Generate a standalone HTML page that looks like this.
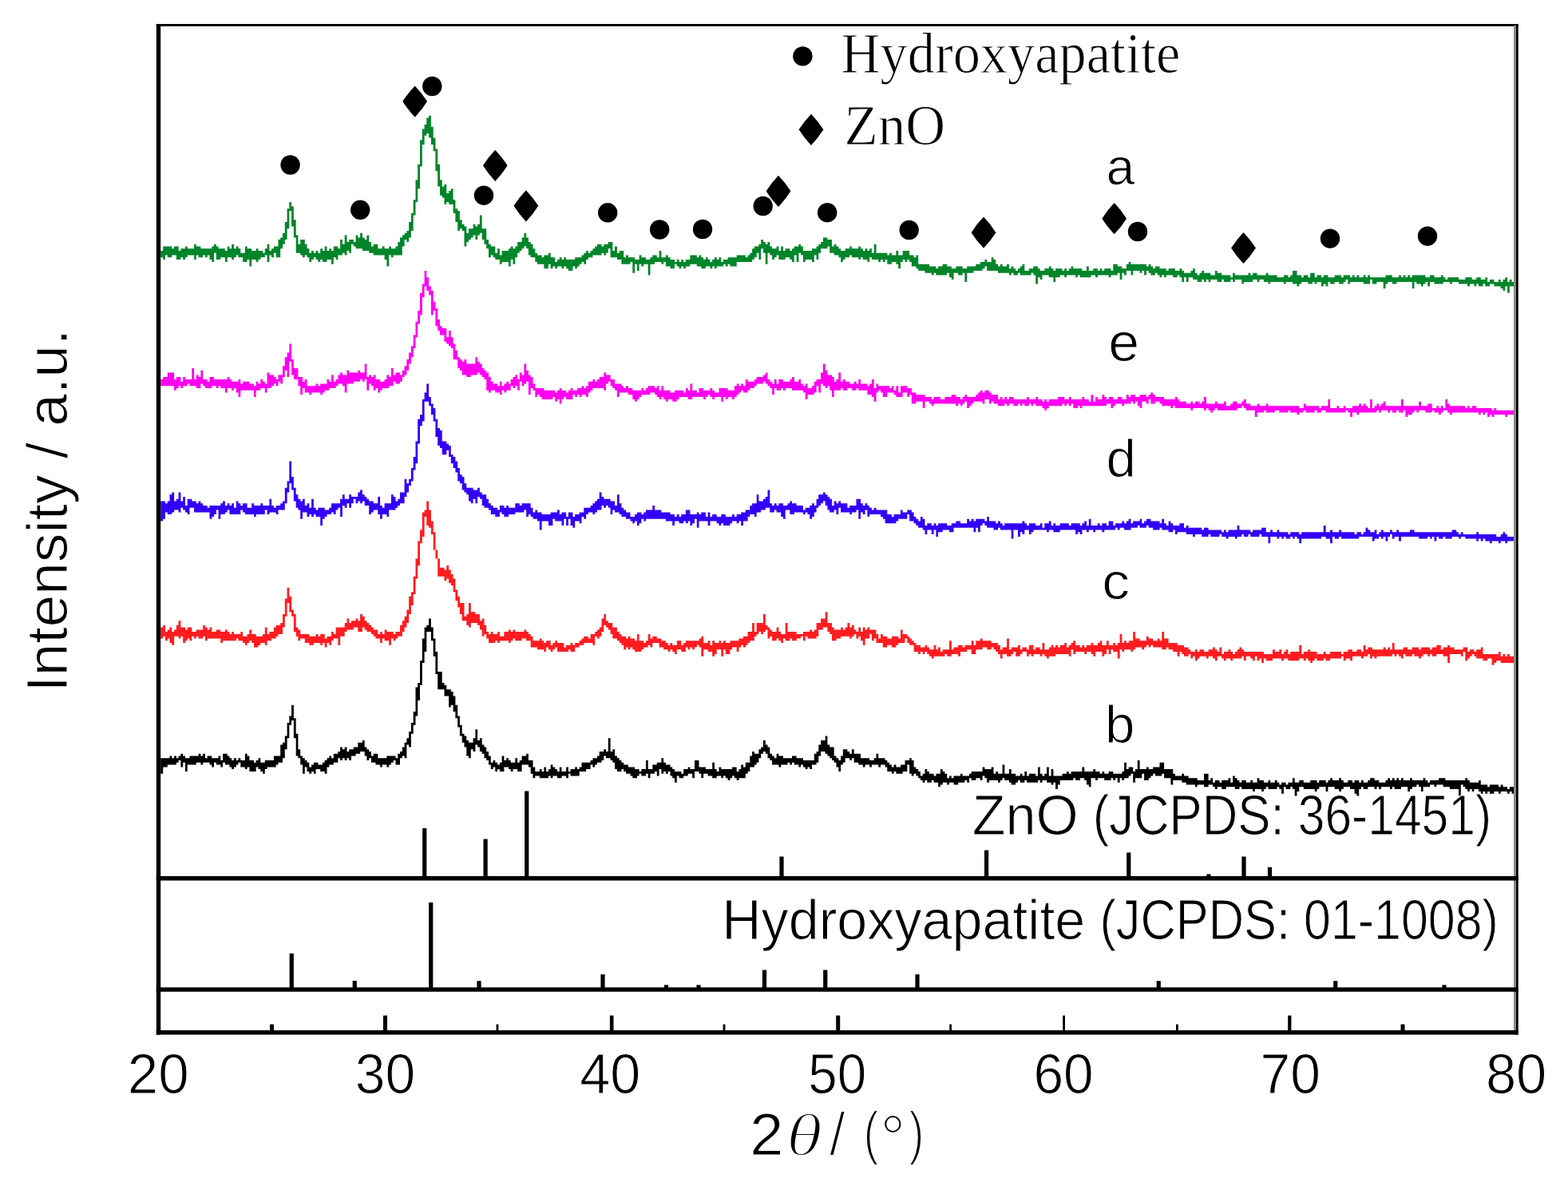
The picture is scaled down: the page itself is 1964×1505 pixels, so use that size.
<!DOCTYPE html>
<html lang="en"><head><meta charset="utf-8"><title>XRD patterns</title>
<style>html,body{margin:0;padding:0;background:#fff}svg{display:block}text{font-family:"Liberation Sans",sans-serif;fill:#000;stroke:#fff;stroke-width:1px;paint-order:fill stroke}.thin{stroke-width:2.2px}.sf{font-family:"Liberation Serif",serif}</style></head>
<body>
<svg width="1964" height="1505" viewBox="0 0 1964 1505">
<rect width="1964" height="1505" fill="#fff"/>
<g id="curves">
<path fill="#00852a" d="M201.2 314H204.2V308.5H215.3V311.2H218.1V308.5H223.6V314H226.4V311.2H232V308.5H234.7V311.2H243.1V305.7H245.8V308.5H251.4V311.2H265.3V308.5H268V305.7H270.8V308.5H273.6V311.2H281.9V314H284.7V308.5H287.4V311.2H290.2V305.7H293V311.2H295.8V308.5H298.5V311.2H301.3V316.8H306.9V308.5H309.6V311.2H315.2V314H320.7V311.2H323.5V314H329.1V316.8H331.8V311.2H334.6V305.7H337.4V314H340.1V311.2H342.9V308.5H348.5V300.1H351.2V297.4H354V291.8H356.8V278H359.6V261.3H362.3V253H365.1V258.5H367.9V275.2H370.7V294.6H373.4V305.7H376.2V300.1H381.8V305.7H384.5V311.2H387.3V316.8H390.1V314H392.9V316.8H395.6V314H398.4V316.8H401.2V311.2H404V314H406.7V308.5H409.5V314H412.3V311.2H415V314H417.8V308.5H423.4V311.2H426.1V300.1H428.9V305.7H431.7V294.6H434.5V302.9H437.2V300.1H442.8V302.9H445.6V294.6H448.3V297.4H451.1V291.8H453.9V297.4H456.7V300.1H459.4V294.6H462.2V302.9H465V308.5H467.8V305.7H473.3V311.2H478.8V308.5H481.6V311.2H487.2V308.5H489.9V311.2H495.5V308.5H498.3V302.9H501V297.4H503.8V294.6H506.6V291.8H509.4V289.1H512.1V278H514.9V266.9H517.7V250.2H520.5V225.2H523.2V205.8H526V175.3H528.8V161.4H531.6V155.9H534.3V147.6H537.1V144.8H539.9V158.7H542.7V172.5H545.4V186.4H548.2V205.8H551V225.2H553.7V233.6H556.5V230.8H559.3V241.9H562.1V239.1H564.8V236.3H567.6V250.2H570.4V261.3H573.2V264.1H575.9V275.2H578.7V280.7H581.5V283.5H584.3V291.8H587V286.3H592.6V280.7H595.4V283.5H598.1V280.7H600.9V269.6H603.7V286.3H609.2V300.1H612V305.7H614.8V308.5H620.3V316.8H623.1V311.2H625.9V319.6H628.6V314H637V311.2H639.7V308.5H642.5V311.2H645.3V308.5H648.1V302.9H653.6V297.4H656.4V291.8H659.2V297.4H661.9V302.9H664.7V305.7H667.5V311.2H670.3V316.8H673V319.6H678.6V322.3H681.4V319.6H686.9V316.8H689.7V322.3H695.2V327.9H698V325.1H700.8V322.3H703.5V325.1H706.3V322.3H709.1V325.1H720.2V322.3H728.5V319.6H731.3V316.8H734.1V314H736.8V316.8H739.6V314H742.4V311.2H745.2V308.5H747.9V305.7H753.5V308.5H756.3V305.7H761.8V302.9H767.3V314H770.1V308.5H772.9V316.8H775.7V314H781.2V322.3H784V319.6H786.8V322.3H795.1V325.1H800.6V319.6H803.4V322.3H809V325.1H814.5V322.3H817.3V319.6H822.8V322.3H825.6V314H828.4V322.3H833.9V319.6H836.7V322.3H839.5V325.1H845V327.9H847.8V325.1H850.6V327.9H853.3V325.1H856.1V327.9H858.9V325.1H864.4V319.6H872.8V322.3H875.5V319.6H878.3V322.3H881.1V325.1H883.9V322.3H886.6V325.1H889.4V327.9H892.2V325.1H895V322.3H897.7V325.1H900.5V322.3H903.3V327.9H906V325.1H911.6V322.3H922.7V319.6H933.8V322.3H936.6V319.6H939.3V316.8H942.1V311.2H944.9V308.5H950.4V305.7H953.2V300.1H956V302.9H958.8V305.7H961.5V302.9H964.3V308.5H967.1V311.2H972.6V308.5H975.4V314H978.2V308.5H980.9V314H983.7V311.2H989.3V314H992V311.2H994.8V308.5H1000.4V305.7H1003.1V308.5H1005.9V314H1017V311.2H1022.6V308.5H1025.3V305.7H1028.1V302.9H1030.9V297.4H1036.4V300.1H1042V308.5H1044.7V305.7H1047.5V308.5H1050.3V311.2H1053.1V314H1058.6V311.2H1064.2V308.5H1066.9V311.2H1075.3V308.5H1078V311.2H1080.8V314H1083.6V311.2H1086.4V314H1089.1V311.2H1091.9V316.8H1094.7V305.7H1097.5V316.8H1111.3V319.6H1114.1V316.8H1116.9V319.6H1122.4V314H1125.2V319.6H1130.7V314H1139.1V319.6H1144.6V322.3H1147.4V319.6H1150.2V330.7H1164V333.4H1172.4V336.2H1175.1V333.4H1180.7V330.7H1186.2V333.4H1191.8V336.2H1197.3V333.4H1205.6V336.2H1211.2V333.4H1222.3V330.7H1227.8V327.9H1233.4V325.1H1236.2V327.9H1241.7V322.3H1244.5V325.1H1247.3V330.7H1250V333.4H1252.8V330.7H1255.6V333.4H1261.1V330.7H1263.9V336.2H1266.7V333.4H1269.4V336.2H1272.2V339H1275V336.2H1277.8V333.4H1280.5V330.7H1283.3V339H1288.9V336.2H1294.4V333.4H1300V336.2H1302.7V339H1308.3V336.2H1313.8V333.4H1316.6V336.2H1319.4V339H1322.1V336.2H1330.5V339H1333.2V336.2H1336V339H1338.8V336.2H1341.6V333.4H1344.3V336.2H1355.4V339H1361V333.4H1363.8V339H1369.3V336.2H1374.9V339H1377.6V336.2H1380.4V339H1383.2V336.2H1391.5V339H1394.3V330.7H1399.8V333.4H1405.4V336.2H1410.9V330.7H1413.7V327.9H1416.5V330.7H1435.9V333.4H1438.7V330.7H1441.4V333.4H1444.2V336.2H1447V333.4H1452.5V336.2H1460.8V339H1463.6V336.2H1471.9V339H1477.5V336.2H1480.3V339H1483V341.8H1491.4V339H1494.1V336.2H1496.9V341.8H1499.7V344.5H1502.5V341.8H1505.2V339H1508V341.8H1516.3V344.5H1521.9V339H1524.7V341.8H1530.2V344.5H1541.3V347.3H1544.1V341.8H1546.8V344.5H1563.5V341.8H1566.3V344.5H1569V341.8H1574.6V344.5H1585.7V341.8H1588.5V344.5H1599.6V347.3H1607.9V344.5H1613.4V347.3H1616.2V344.5H1619V339H1624.5V344.5H1630.1V347.3H1632.8V344.5H1638.4V347.3H1641.2V341.8H1646.7V347.3H1649.5V344.5H1655V347.3H1657.8V344.5H1663.4V347.3H1671.7V344.5H1680V347.3H1682.8V344.5H1691.1V347.3H1693.9V344.5H1696.6V347.3H1699.4V344.5H1702.2V347.3H1707.7V344.5H1710.5V347.3H1713.3V344.5H1716.1V347.3H1735.5V344.5H1743.8V347.3H1752.1V344.5H1754.9V347.3H1757.7V344.5H1760.4V347.3H1763.2V344.5H1766V347.3H1768.8V344.5H1785.4V347.3H1791V344.5H1796.5V347.3H1804.8V344.5H1807.6V347.3H1810.4V350.1H1813.1V347.3H1827V350.1H1835.3V347.3H1843.7V350.1H1849.2V347.3H1854.8V350.1H1860.3V347.3H1863.1V352.9H1865.9V350.1H1871.4V352.9H1877V350.1H1879.7V352.9H1882.5V350.1H1885.3V347.3H1888V352.9H1890.8V350.1H1893.6V352.9H1896.4V358.4H1890.8V366.7H1888V358.4H1885.3V364H1882.5V361.2H1879.7V358.4H1871.4V355.6H1865.9V358.4H1860.3V355.6H1857.5V358.4H1852V355.6H1849.2V358.4H1846.4V355.6H1840.9V358.4H1838.1V355.6H1827V352.9H1818.7V355.6H1815.9V352.9H1807.6V355.6H1796.5V352.9H1791V358.4H1788.2V352.9H1785.4V355.6H1782.6V358.4H1779.9V355.6H1774.3V352.9H1771.5V361.2H1768.8V352.9H1749.3V355.6H1743.8V352.9H1738.3V355.6H1735.5V361.2H1732.7V352.9H1724.4V355.6H1718.8V350.1H1716.1V355.6H1707.7V352.9H1691.1V355.6H1688.3V350.1H1685.5V352.9H1682.8V355.6H1677.2V352.9H1671.7V355.6H1666.1V352.9H1663.4V358.4H1660.6V355.6H1657.8V358.4H1655V352.9H1649.5V355.6H1646.7V352.9H1643.9V355.6H1638.4V352.9H1630.1V355.6H1627.3V358.4H1624.5V355.6H1619V352.9H1610.6V355.6H1607.9V352.9H1591.2V355.6H1588.5V352.9H1582.9V350.1H1577.4V352.9H1574.6V350.1H1569V352.9H1557.9V355.6H1555.2V350.1H1546.8V352.9H1544.1V350.1H1541.3V352.9H1533V350.1H1530.2V352.9H1524.7V350.1H1516.3V352.9H1513.6V350.1H1510.8V352.9H1508V350.1H1505.2V352.9H1499.7V350.1H1494.1V347.3H1488.6V352.9H1485.8V347.3H1483V352.9H1480.3V347.3H1477.5V344.5H1474.7V347.3H1469.2V344.5H1460.8V347.3H1458.1V344.5H1455.3V347.3H1452.5V344.5H1449.8V341.8H1447V344.5H1441.4V341.8H1438.7V339H1435.9V344.5H1433.1V339H1430.3V341.8H1427.6V339H1419.2V344.5H1416.5V339H1410.9V344.5H1408.1V341.8H1405.4V350.1H1402.6V341.8H1399.8V344.5H1391.5V347.3H1388.7V344.5H1374.9V347.3H1372.1V344.5H1366.5V347.3H1352.7V344.5H1349.9V347.3H1347.1V344.5H1336V347.3H1333.2V344.5H1327.7V347.3H1322.1V352.9H1319.4V347.3H1313.8V344.5H1305.5V350.1H1302.7V347.3H1300V355.6H1297.2V344.5H1294.4V341.8H1291.6V344.5H1277.8V341.8H1275V344.5H1269.4V341.8H1266.7V344.5H1263.9V341.8H1250V339H1236.2V333.4H1233.4V336.2H1230.6V339H1219.5V341.8H1211.2V352.9H1208.4V341.8H1205.6V344.5H1200.1V341.8H1194.5V350.1H1191.8V347.3H1189V341.8H1186.2V344.5H1172.4V341.8H1169.6V344.5H1166.8V341.8H1158.5V339H1150.2V336.2H1147.4V333.4H1141.8V327.9H1139.1V325.1H1136.3V327.9H1133.5V325.1H1130.7V327.9H1128V336.2H1125.2V330.7H1122.4V327.9H1116.9V330.7H1111.3V325.1H1108.6V327.9H1105.8V325.1H1103V327.9H1100.2V325.1H1091.9V322.3H1089.1V327.9H1086.4V325.1H1080.8V322.3H1078V325.1H1075.3V322.3H1066.9V319.6H1064.2V322.3H1058.6V325.1H1055.8V327.9H1053.1V322.3H1050.3V319.6H1044.7V316.8H1039.2V308.5H1036.4V311.2H1028.1V316.8H1025.3V325.1H1022.6V319.6H1019.8V327.9H1017V325.1H1008.7V327.9H1005.9V319.6H1003.1V316.8H1000.4V327.9H997.6V319.6H994.8V327.9H992V325.1H989.3V322.3H983.7V325.1H975.4V319.6H972.6V322.3H969.8V325.1H967.1V319.6H964.3V316.8H961.5V330.7H958.8V316.8H956V311.2H953.2V325.1H950.4V316.8H947.7V322.3H944.9V325.1H942.1V327.9H922.7V333.4H914.4V330.7H911.6V333.4H908.8V330.7H906V333.4H897.7V336.2H895V333.4H892.2V336.2H889.4V333.4H883.9V336.2H878.3V333.4H872.8V330.7H864.4V333.4H858.9V336.2H856.1V333.4H853.3V336.2H850.6V333.4H847.8V330.7H845V336.2H839.5V333.4H833.9V327.9H831.1V330.7H828.4V327.9H820.1V330.7H814.5V344.5H811.7V330.7H806.2V333.4H803.4V330.7H800.6V339H797.9V330.7H795.1V341.8H792.3V327.9H789.5V330.7H778.4V325.1H772.9V322.3H764.6V311.2H761.8V316.8H759V319.6H756.3V316.8H753.5V319.6H742.4V322.3H736.8V325.1H734.1V330.7H731.3V327.9H728.5V330.7H725.7V333.4H723V336.2H720.2V333.4H717.4V339H711.9V336.2H709.1V333.4H706.3V336.2H703.5V333.4H698V336.2H695.2V333.4H692.4V336.2H689.7V330.7H686.9V336.2H681.4V330.7H673V327.9H670.3V322.3H664.7V319.6H661.9V311.2H659.2V308.5H656.4V311.2H653.6V314H650.8V316.8H648.1V322.3H645.3V330.7H642.5V325.1H639.7V333.4H637V327.9H628.6V330.7H625.9V325.1H620.3V322.3H617.6V319.6H614.8V322.3H612V311.2H609.2V305.7H606.5V300.1H603.7V291.8H600.9V294.6H598.1V300.1H595.4V294.6H592.6V297.4H589.8V300.1H587V302.9H584.3V308.5H581.5V289.1H578.7V286.3H575.9V289.1H573.2V278H570.4V266.9H567.6V255.8H562.1V253H559.3V255.8H556.5V247.4H553.7V244.7H551V233.6H548.2V214.2H545.4V189.2H542.7V180.9H539.9V172.5H537.1V167H534.3V169.8H531.6V180.9H528.8V208.6H526V236.3H523.2V253H520.5V269.6H517.7V289.1H514.9V297.4H512.1V302.9H509.4V300.1H506.6V308.5H503.8V319.6H492.7V322.3H489.9V319.6H487.2V333.4H484.4V325.1H481.6V319.6H467.8V316.8H462.2V314H453.9V311.2H445.6V308.5H442.8V305.7H440V316.8H437.2V314H434.5V319.6H431.7V316.8H428.9V319.6H423.4V325.1H420.6V322.3H417.8V330.7H415V325.1H409.5V327.9H404V325.1H401.2V327.9H398.4V325.1H395.6V322.3H392.9V325.1H390.1V327.9H387.3V322.3H384.5V319.6H381.8V322.3H379V319.6H376.2V316.8H370.7V297.4H367.9V283.5H365.1V264.1H362.3V286.3H359.6V300.1H356.8V305.7H354V311.2H351.2V322.3H345.7V316.8H342.9V322.3H340.1V319.6H337.4V327.9H334.6V319.6H331.8V322.3H326.3V325.1H323.5V327.9H320.7V325.1H315.2V333.4H312.4V325.1H309.6V327.9H304.1V322.3H298.5V319.6H295.8V322.3H293V325.1H290.2V322.3H284.7V327.9H281.9V322.3H276.3V325.1H270.8V316.8H268V327.9H265.3V325.1H262.5V319.6H259.7V322.3H256.9V319.6H254.2V322.3H248.6V319.6H245.8V325.1H243.1V319.6H234.7V322.3H232V325.1H229.2V322.3H226.4V325.1H220.9V319.6H215.3V322.3H209.8V319.6H207V325.1H204.2V322.3H201.2Z"/>
<path fill="#ff00f0" d="M201.2 474.9H204.2V472.1H209.8V466.6H218.1V474.9H220.9V472.1H226.4V477.7H229.2V472.1H232V474.9H240.3V461H243.1V474.9H245.8V469.4H248.6V472.1H251.4V463.8H254.2V474.9H259.7V477.7H262.5V472.1H268V474.9H284.7V472.1H287.4V474.9H290.2V477.7H298.5V474.9H301.3V480.5H304.1V477.7H312.4V480.5H318V483.2H320.7V477.7H323.5V480.5H326.3V474.9H329.1V477.7H331.8V480.5H334.6V466.6H337.4V469.4H342.9V472.1H345.7V474.9H348.5V469.4H354V458.3H356.8V447.2H359.6V441.6H362.3V430.5H365.1V449.9H367.9V461H373.4V472.1H379V477.7H381.8V474.9H384.5V483.2H395.6V480.5H398.4V483.2H401.2V480.5H409.5V474.9H412.3V477.7H415V469.4H417.8V477.7H420.6V474.9H423.4V469.4H426.1V466.6H428.9V469.4H434.5V463.8H437.2V466.6H448.3V463.8H451.1V466.6H456.7V455.5H459.4V472.1H462.2V469.4H465V472.1H467.8V469.4H470.5V474.9H476.1V477.7H481.6V474.9H484.4V469.4H487.2V472.1H489.9V461H492.7V469.4H495.5V466.6H501V469.4H503.8V463.8H506.6V458.3H509.4V449.9H512.1V441.6H514.9V433.3H517.7V419.4H520.5V402.8H523.2V388.9H526V366.7H528.8V355.6H531.6V339H534.3V347.3H537.1V358.4H539.9V364H542.7V377.8H545.4V386.1H548.2V400H551V408.3H553.7V411.1H559.3V422.2H562.1V413.9H564.8V422.2H567.6V430.5H570.4V438.8H573.2V447.2H575.9V449.9H578.7V452.7H581.5V449.9H584.3V455.5H595.4V447.2H598.1V452.7H600.9V455.5H603.7V461H606.5V463.8H609.2V466.6H612V472.1H614.8V477.7H617.6V480.5H623.1V483.2H625.9V477.7H628.6V483.2H631.4V480.5H634.2V477.7H637V480.5H639.7V474.9H642.5V472.1H645.3V469.4H648.1V474.9H650.8V466.6H653.6V469.4H656.4V455.5H659.2V463.8H661.9V469.4H664.7V472.1H667.5V480.5H670.3V486H681.4V488.8H695.2V491.6H698V488.8H700.8V486H703.5V488.8H709.1V491.6H711.9V488.8H714.6V486H717.4V488.8H723V486H728.5V483.2H731.3V486H734.1V483.2H736.8V477.7H742.4V474.9H745.2V477.7H747.9V474.9H750.7V472.1H756.3V466.6H759V469.4H764.6V474.9H770.1V480.5H778.4V483.2H781.2V486H784V483.2H786.8V486H792.3V488.8H803.4V486H806.2V488.8H809V486H811.7V483.2H820.1V486H822.8V483.2H825.6V488.8H828.4V483.2H831.1V488.8H839.5V491.6H845V488.8H856.1V491.6H858.9V486H861.7V488.8H864.4V480.5H867.2V488.8H872.8V491.6H875.5V486H881.1V488.8H889.4V486H892.2V488.8H895V491.6H900.5V486H911.6V488.8H919.9V483.2H922.7V480.5H925.5V483.2H928.2V480.5H931V483.2H933.8V474.9H936.6V477.7H944.9V474.9H947.7V472.1H956V469.4H958.8V466.6H961.5V474.9H964.3V477.7H967.1V480.5H969.8V474.9H972.6V480.5H975.4V474.9H980.9V477.7H989.3V474.9H992V472.1H994.8V477.7H1000.4V474.9H1003.1V480.5H1005.9V483.2H1008.7V480.5H1011.5V486H1017V483.2H1019.8V477.7H1022.6V474.9H1028.1V466.6H1030.9V455.5H1033.7V463.8H1036.4V469.4H1042V472.1H1044.7V477.7H1047.5V474.9H1050.3V466.6H1053.1V477.7H1055.8V474.9H1058.6V477.7H1064.2V480.5H1069.7V477.7H1072.5V480.5H1075.3V474.9H1078V480.5H1086.4V483.2H1089.1V480.5H1091.9V474.9H1094.7V486H1097.5V480.5H1100.2V483.2H1114.1V486H1116.9V483.2H1119.6V488.8H1122.4V483.2H1125.2V491.6H1128V483.2H1136.3V486H1141.8V491.6H1147.4V494.3H1158.5V497.1H1166.8V499.9H1169.6V497.1H1177.9V499.9H1183.4V497.1H1191.8V494.3H1197.3V497.1H1202.9V499.9H1205.6V497.1H1208.4V494.3H1211.2V497.1H1222.3V494.3H1225.1V491.6H1227.8V488.8H1230.6V491.6H1233.4V488.8H1238.9V491.6H1241.7V494.3H1250V499.9H1252.8V497.1H1255.6V499.9H1258.3V497.1H1261.1V499.9H1263.9V497.1H1269.4V499.9H1286.1V497.1H1288.9V499.9H1297.2V497.1H1300V499.9H1305.5V502.7H1308.3V499.9H1311.1V502.7H1313.8V499.9H1324.9V497.1H1333.2V499.9H1338.8V497.1H1341.6V499.9H1355.4V497.1H1358.2V499.9H1363.8V502.7H1366.5V494.3H1369.3V502.7H1372.1V497.1H1374.9V499.9H1380.4V494.3H1383.2V497.1H1386V499.9H1388.7V497.1H1394.3V499.9H1399.8V497.1H1405.4V499.9H1410.9V494.3H1413.7V497.1H1416.5V494.3H1422V497.1H1427.6V494.3H1435.9V497.1H1438.7V494.3H1441.4V491.6H1444.2V494.3H1447V497.1H1458.1V499.9H1471.9V497.1H1474.7V499.9H1477.5V502.7H1485.8V505.4H1491.4V502.7H1494.1V505.4H1496.9V502.7H1502.5V505.4H1505.2V502.7H1508V497.1H1510.8V505.4H1521.9V502.7H1524.7V505.4H1533V502.7H1535.7V508.2H1541.3V505.4H1544.1V502.7H1549.6V505.4H1555.2V502.7H1557.9V499.9H1560.7V505.4H1566.3V508.2H1574.6V505.4H1577.4V508.2H1585.7V505.4H1588.5V508.2H1627.3V511H1632.8V505.4H1635.6V508.2H1652.3V511H1655V508.2H1663.4V499.9H1666.1V511H1674.4V508.2H1677.2V511H1682.8V508.2H1685.5V511H1693.9V508.2H1702.2V505.4H1705V508.2H1707.7V505.4H1710.5V508.2H1713.3V511H1716.1V499.9H1718.8V511H1721.6V508.2H1724.4V505.4H1727.2V508.2H1729.9V505.4H1732.7V502.7H1735.5V508.2H1754.9V499.9H1757.7V508.2H1777.1V502.7H1779.9V508.2H1788.2V505.4H1793.7V511H1799.3V508.2H1802.1V511H1804.8V508.2H1807.6V511H1810.4V499.9H1813.1V505.4H1815.9V508.2H1835.3V511H1838.1V508.2H1840.9V511H1843.7V508.2H1849.2V511H1868.6V513.7H1871.4V511H1874.2V513.7H1896.4V519.3H1888V522.1H1885.3V519.3H1871.4V522.1H1868.6V519.3H1865.9V522.1H1863.1V516.5H1860.3V519.3H1857.5V516.5H1854.8V519.3H1852V516.5H1818.7V519.3H1815.9V516.5H1813.1V513.7H1807.6V516.5H1804.8V519.3H1802.1V516.5H1796.5V513.7H1793.7V516.5H1785.4V513.7H1777.1V516.5H1774.3V513.7H1771.5V516.5H1768.8V519.3H1763.2V522.1H1760.4V513.7H1757.7V516.5H1752.1V513.7H1749.3V516.5H1743.8V513.7H1741V516.5H1738.3V513.7H1729.9V516.5H1727.2V513.7H1724.4V516.5H1702.2V519.3H1699.4V516.5H1693.9V522.1H1691.1V516.5H1688.3V513.7H1685.5V516.5H1660.6V513.7H1655V516.5H1649.5V513.7H1646.7V516.5H1635.6V513.7H1632.8V516.5H1627.3V519.3H1624.5V516.5H1616.2V513.7H1613.4V516.5H1602.3V513.7H1596.8V516.5H1585.7V513.7H1582.9V516.5H1574.6V522.1H1571.8V513.7H1560.7V511H1557.9V508.2H1555.2V511H1549.6V513.7H1524.7V511H1521.9V513.7H1519.1V516.5H1516.3V513.7H1513.6V511H1510.8V513.7H1508V511H1494.1V513.7H1491.4V511H1471.9V508.2H1469.2V511H1466.4V508.2H1455.3V505.4H1452.5V502.7H1447V505.4H1441.4V499.9H1438.7V505.4H1435.9V502.7H1430.3V511H1427.6V508.2H1424.8V502.7H1422V505.4H1419.2V502.7H1416.5V505.4H1408.1V508.2H1405.4V505.4H1397V508.2H1394.3V511H1391.5V505.4H1386V508.2H1355.4V511H1352.7V508.2H1349.9V511H1344.3V505.4H1341.6V508.2H1338.8V505.4H1336V508.2H1333.2V505.4H1330.5V508.2H1313.8V511H1311.1V513.7H1308.3V511H1305.5V508.2H1297.2V505.4H1294.4V508.2H1291.6V505.4H1288.9V508.2H1283.3V505.4H1280.5V508.2H1277.8V505.4H1275V508.2H1269.4V505.4H1263.9V508.2H1261.1V505.4H1258.3V508.2H1250V505.4H1244.5V502.7H1241.7V505.4H1238.9V499.9H1233.4V505.4H1230.6V502.7H1219.5V505.4H1216.7V508.2H1214V511H1211.2V502.7H1208.4V505.4H1205.6V508.2H1202.9V505.4H1200.1V508.2H1197.3V505.4H1169.6V508.2H1166.8V505.4H1164V502.7H1158.5V511H1155.7V502.7H1147.4V505.4H1141.8V494.3H1139.1V497.1H1136.3V491.6H1130.7V497.1H1122.4V494.3H1119.6V491.6H1111.3V497.1H1105.8V491.6H1103V488.8H1100.2V491.6H1097.5V502.7H1094.7V497.1H1091.9V494.3H1086.4V488.8H1075.3V486H1072.5V488.8H1066.9V486H1061.4V488.8H1055.8V486H1053.1V488.8H1044.7V497.1H1042V488.8H1039.2V483.2H1036.4V486H1033.7V483.2H1030.9V480.5H1028.1V491.6H1025.3V483.2H1022.6V491.6H1019.8V494.3H1011.5V499.9H1008.7V491.6H1005.9V488.8H992V486H983.7V488.8H980.9V486H978.2V488.8H972.6V486H969.8V494.3H967.1V486H964.3V483.2H961.5V480.5H958.8V477.7H956V480.5H947.7V483.2H944.9V486H939.3V488.8H936.6V491.6H931V488.8H928.2V491.6H925.5V494.3H922.7V497.1H919.9V499.9H917.1V497.1H911.6V499.9H908.8V497.1H906V502.7H903.3V497.1H895V499.9H892.2V497.1H889.4V494.3H886.6V497.1H883.9V499.9H881.1V497.1H867.2V499.9H861.7V497.1H850.6V499.9H847.8V502.7H842.2V499.9H836.7V502.7H833.9V499.9H831.1V497.1H828.4V499.9H825.6V497.1H822.8V494.3H820.1V491.6H814.5V494.3H803.4V497.1H800.6V499.9H797.9V502.7H795.1V499.9H792.3V494.3H786.8V491.6H775.7V497.1H772.9V488.8H770.1V486H767.3V483.2H764.6V477.7H761.8V480.5H759V488.8H756.3V486H742.4V488.8H739.6V491.6H736.8V497.1H734.1V494.3H728.5V497.1H725.7V494.3H723V497.1H720.2V494.3H717.4V499.9H709.1V497.1H706.3V499.9H703.5V505.4H700.8V499.9H698V502.7H695.2V497.1H692.4V499.9H678.6V497.1H675.8V494.3H673V497.1H670.3V488.8H667.5V486H664.7V494.3H661.9V477.7H659.2V480.5H656.4V483.2H653.6V477.7H650.8V488.8H648.1V483.2H645.3V486H642.5V483.2H639.7V488.8H634.2V491.6H631.4V488.8H628.6V494.3H625.9V491.6H620.3V488.8H614.8V491.6H612V488.8H609.2V474.9H606.5V472.1H603.7V469.4H600.9V466.6H598.1V469.4H589.8V472.1H584.3V469.4H578.7V463.8H575.9V461H573.2V449.9H567.6V436.1H564.8V433.3H562.1V430.5H559.3V427.8H556.5V419.4H551V413.9H548.2V408.3H545.4V388.9H542.7V394.5H539.9V369.5H537.1V364H534.3V358.4H531.6V372.3H528.8V394.5H526V405.6H523.2V422.2H520.5V436.1H517.7V447.2H514.9V455.5H512.1V463.8H509.4V469.4H506.6V472.1H503.8V477.7H501V480.5H495.5V477.7H492.7V483.2H487.2V486H478.8V488.8H476.1V491.6H473.3V486H470.5V488.8H467.8V483.2H465V480.5H462.2V488.8H459.4V474.9H456.7V477.7H453.9V474.9H451.1V477.7H442.8V480.5H434.5V491.6H431.7V483.2H428.9V480.5H423.4V483.2H420.6V486H412.3V488.8H406.7V491.6H404V494.3H401.2V491.6H390.1V494.3H387.3V491.6H381.8V486H379V494.3H376.2V483.2H373.4V474.9H367.9V469.4H365.1V452.7H362.3V472.1H359.6V463.8H356.8V472.1H354V480.5H351.2V477.7H348.5V483.2H345.7V480.5H342.9V483.2H340.1V486H334.6V491.6H331.8V486H326.3V488.8H320.7V497.1H318V488.8H301.3V497.1H298.5V491.6H295.8V486H293V488.8H290.2V486H284.7V491.6H281.9V486H276.3V483.2H273.6V486H270.8V483.2H265.3V486H256.9V483.2H254.2V480.5H251.4V486H245.8V483.2H237.5V480.5H234.7V483.2H229.2V486H226.4V483.2H223.6V486H220.9V488.8H218.1V483.2H201.2Z"/>
<path fill="#3300f5" d="M201.2 627.5H207V630.3H209.8V627.5H212.5V619.2H215.3V616.4H218.1V627.5H220.9V624.7H223.6V616.4H226.4V627.5H229.2V621.9H232V633H234.7V624.7H240.3V627.5H245.8V630.3H248.6V627.5H251.4V630.3H254.2V633H259.7V635.8H262.5V633H276.3V630.3H279.1V627.5H281.9V633H284.7V630.3H287.4V633H290.2V630.3H293V635.8H295.8V627.5H298.5V630.3H301.3V633H304.1V630.3H309.6V635.8H315.2V630.3H318V633H326.3V630.3H329.1V633H337.4V624.7H340.1V633H342.9V635.8H345.7V633H351.2V630.3H354V627.5H356.8V610.8H359.6V602.5H362.3V577.5H365.1V597H367.9V610.8H370.7V619.2H373.4V624.7H376.2V627.5H379V624.7H381.8V633H384.5V630.3H387.3V635.8H390.1V624.7H392.9V635.8H395.6V638.6H398.4V635.8H406.7V638.6H412.3V635.8H415V630.3H426.1V624.7H428.9V619.2H431.7V624.7H437.2V619.2H440V621.9H448.3V616.4H451.1V613.6H453.9V619.2H456.7V621.9H459.4V624.7H462.2V627.5H467.8V630.3H473.3V621.9H476.1V633H478.8V635.8H481.6V630.3H489.9V619.2H492.7V621.9H495.5V627.5H498.3V624.7H501V616.4H506.6V599.7H509.4V605.3H512.1V599.7H514.9V585.9H517.7V572H520.5V552.6H523.2V524.8H526V519.3H528.8V499.9H531.6V491.6H534.3V480.5H537.1V497.1H539.9V505.4H542.7V511H545.4V524.8H548.2V535.9H551V538.7H553.7V552.6H559.3V555.4H562.1V558.1H564.8V569.2H567.6V572H570.4V577.5H573.2V585.9H575.9V594.2H578.7V597H581.5V605.3H584.3V610.8H592.6V613.6H598.1V610.8H600.9V616.4H603.7V619.2H609.2V624.7H612V630.3H614.8V633H617.6V635.8H623.1V638.6H625.9V633H631.4V635.8H634.2V633H637V635.8H645.3V630.3H650.8V633H653.6V630.3H664.7V635.8H667.5V641.4H670.3V638.6H673V641.4H678.6V644.1H689.7V641.4H698V638.6H700.8V644.1H703.5V641.4H709.1V646.9H711.9V641.4H717.4V646.9H720.2V644.1H725.7V641.4H731.3V635.8H739.6V633H742.4V630.3H745.2V627.5H747.9V624.7H750.7V616.4H753.5V621.9H756.3V624.7H764.6V627.5H770.1V633H772.9V619.2H775.7V630.3H778.4V635.8H781.2V638.6H784V641.4H789.5V646.9H795.1V644.1H797.9V641.4H803.4V644.1H806.2V641.4H809V638.6H817.3V633H820.1V638.6H828.4V641.4H839.5V644.1H845V646.9H847.8V644.1H850.6V646.9H853.3V644.1H858.9V638.6H864.4V644.1H872.8V641.4H875.5V644.1H878.3V641.4H883.9V646.9H886.6V641.4H889.4V646.9H892.2V644.1H897.7V646.9H903.3V644.1H908.8V646.9H917.1V644.1H919.9V646.9H922.7V644.1H928.2V641.4H933.8V638.6H939.3V633H942.1V630.3H947.7V619.2H950.4V627.5H956V624.7H958.8V621.9H961.5V613.6H964.3V630.3H967.1V633H969.8V630.3H972.6V633H975.4V630.3H980.9V633H986.5V630.3H989.3V627.5H992V630.3H997.6V633H1005.9V638.6H1008.7V635.8H1014.2V633H1017V630.3H1019.8V633H1022.6V624.7H1025.3V619.2H1030.9V616.4H1033.7V619.2H1036.4V621.9H1039.2V624.7H1042V633H1044.7V627.5H1047.5V630.3H1050.3V627.5H1053.1V630.3H1061.4V635.8H1064.2V633H1072.5V624.7H1078V630.3H1080.8V633H1083.6V630.3H1086.4V633H1089.1V635.8H1091.9V638.6H1094.7V635.8H1097.5V638.6H1111.3V644.1H1116.9V646.9H1119.6V644.1H1128V638.6H1130.7V641.4H1136.3V638.6H1141.8V641.4H1144.6V646.9H1147.4V649.7H1150.2V652.4H1152.9V646.9H1155.7V649.7H1158.5V658H1161.3V655.2H1166.8V658H1169.6V655.2H1172.4V658H1175.1V655.2H1186.2V658H1191.8V655.2H1197.3V652.4H1202.9V655.2H1211.2V649.7H1214V652.4H1216.7V649.7H1219.5V652.4H1222.3V649.7H1233.4V652.4H1236.2V646.9H1238.9V652.4H1247.3V655.2H1250V652.4H1252.8V655.2H1255.6V658H1258.3V655.2H1280.5V652.4H1283.3V655.2H1286.1V658H1288.9V655.2H1297.2V658H1302.7V655.2H1305.5V660.8H1308.3V655.2H1313.8V652.4H1316.6V658H1319.4V655.2H1322.1V658H1327.7V655.2H1338.8V658H1341.6V655.2H1352.7V658H1355.4V655.2H1358.2V652.4H1361V658H1363.8V649.7H1366.5V658H1374.9V655.2H1377.6V658H1380.4V655.2H1386V658H1388.7V652.4H1394.3V658H1397V655.2H1405.4V652.4H1408.1V655.2H1410.9V652.4H1413.7V649.7H1416.5V655.2H1419.2V652.4H1427.6V649.7H1430.3V655.2H1433.1V652.4H1435.9V649.7H1441.4V652.4H1452.5V655.2H1455.3V649.7H1458.1V655.2H1460.8V658H1463.6V652.4H1466.4V655.2H1469.2V658H1477.5V655.2H1483V660.8H1485.8V658H1488.6V660.8H1505.2V663.5H1508V660.8H1513.6V663.5H1530.2V666.3H1533V663.5H1535.7V666.3H1538.5V663.5H1549.6V658H1552.4V663.5H1566.3V666.3H1569V663.5H1580.1V660.8H1585.7V666.3H1591.2V663.5H1594V666.3H1599.6V663.5H1602.3V666.3H1613.4V669.1H1616.2V666.3H1627.3V669.1H1630.1V666.3H1657.8V658H1660.6V666.3H1666.1V663.5H1668.9V666.3H1677.2V663.5H1680V666.3H1696.6V669.1H1699.4V666.3H1705V669.1H1707.7V666.3H1710.5V660.8H1713.3V663.5H1716.1V666.3H1721.6V663.5H1724.4V669.1H1727.2V666.3H1729.9V663.5H1732.7V666.3H1741V663.5H1743.8V666.3H1749.3V663.5H1752.1V666.3H1766V663.5H1771.5V666.3H1818.7V663.5H1824.2V666.3H1827V669.1H1829.8V666.3H1832.6V669.1H1849.2V666.3H1852V669.1H1874.2V671.9H1879.7V669.1H1882.5V666.3H1885.3V669.1H1888V671.9H1896.4V677.4H1888V680.2H1885.3V677.4H1879.7V680.2H1877V677.4H1868.6V680.2H1865.9V677.4H1860.3V674.6H1857.5V677.4H1854.8V674.6H1852V677.4H1849.2V674.6H1835.3V671.9H1829.8V674.6H1827V671.9H1818.7V674.6H1810.4V671.9H1807.6V674.6H1802.1V671.9H1799.3V677.4H1796.5V671.9H1793.7V674.6H1791V671.9H1788.2V674.6H1777.1V671.9H1754.9V677.4H1752.1V671.9H1746.6V674.6H1743.8V669.1H1741V671.9H1738.3V677.4H1735.5V671.9H1732.7V674.6H1729.9V671.9H1727.2V674.6H1721.6V677.4H1718.8V671.9H1702.2V674.6H1680V671.9H1677.2V674.6H1671.7V671.9H1668.9V680.2H1666.1V674.6H1660.6V671.9H1655V674.6H1630.1V680.2H1627.3V674.6H1624.5V671.9H1621.7V674.6H1619V671.9H1616.2V674.6H1610.6V671.9H1607.9V674.6H1605.1V671.9H1602.3V674.6H1599.6V671.9H1591.2V680.2H1588.5V671.9H1580.1V669.1H1577.4V671.9H1566.3V669.1H1563.5V671.9H1557.9V669.1H1555.2V671.9H1549.6V674.6H1546.8V671.9H1538.5V674.6H1535.7V671.9H1530.2V669.1H1527.4V671.9H1516.3V669.1H1513.6V671.9H1505.2V669.1H1496.9V671.9H1494.1V669.1H1485.8V666.3H1474.7V669.1H1471.9V663.5H1469.2V666.3H1463.6V663.5H1455.3V660.8H1452.5V663.5H1444.2V660.8H1438.7V658H1435.9V660.8H1427.6V658H1424.8V660.8H1416.5V663.5H1408.1V660.8H1402.6V663.5H1399.8V660.8H1397V663.5H1383.2V666.3H1380.4V663.5H1372.1V666.3H1369.3V663.5H1363.8V666.3H1361V663.5H1355.4V669.1H1352.7V666.3H1349.9V669.1H1347.1V663.5H1327.7V666.3H1319.4V663.5H1313.8V666.3H1311.1V663.5H1294.4V666.3H1291.6V669.1H1288.9V663.5H1283.3V669.1H1280.5V666.3H1277.8V671.9H1275V663.5H1269.4V674.6H1266.7V663.5H1252.8V660.8H1250V663.5H1244.5V660.8H1236.2V658H1233.4V655.2H1230.6V658H1227.8V666.3H1225.1V660.8H1222.3V666.3H1219.5V660.8H1194.5V666.3H1189V663.5H1180.7V666.3H1175.1V671.9H1172.4V663.5H1169.6V669.1H1166.8V663.5H1161.3V669.1H1158.5V663.5H1155.7V660.8H1150.2V658H1147.4V655.2H1144.6V652.4H1139.1V644.1H1136.3V649.7H1125.2V652.4H1122.4V655.2H1108.6V649.7H1105.8V646.9H1103V644.1H1089.1V646.9H1086.4V638.6H1083.6V644.1H1080.8V641.4H1078V649.7H1075.3V638.6H1072.5V641.4H1066.9V644.1H1064.2V641.4H1053.1V635.8H1050.3V644.1H1047.5V638.6H1044.7V641.4H1039.2V638.6H1036.4V633H1033.7V627.5H1030.9V630.3H1028.1V633H1025.3V635.8H1022.6V641.4H1019.8V646.9H1017V649.7H1014.2V644.1H1011.5V641.4H1008.7V644.1H1005.9V641.4H994.8V644.1H989.3V638.6H983.7V649.7H980.9V646.9H978.2V641.4H972.6V638.6H969.8V641.4H964.3V635.8H958.8V638.6H953.2V641.4H947.7V646.9H944.9V644.1H939.3V646.9H936.6V652.4H931V658H928.2V652.4H925.5V655.2H922.7V652.4H917.1V655.2H914.4V658H906V655.2H903.3V658H900.5V655.2H897.7V652.4H889.4V658H886.6V652.4H875.5V660.8H872.8V649.7H870V655.2H867.2V658H864.4V652.4H861.7V655.2H858.9V652.4H856.1V655.2H850.6V652.4H845V658H842.2V652.4H833.9V649.7H809V652.4H806.2V649.7H803.4V655.2H800.6V658H797.9V652.4H795.1V655.2H792.3V652.4H789.5V649.7H784V646.9H778.4V644.1H775.7V641.4H770.1V638.6H767.3V644.1H764.6V635.8H761.8V633H759V635.8H756.3V633H753.5V638.6H747.9V641.4H745.2V644.1H742.4V641.4H736.8V644.1H734.1V649.7H731.3V646.9H728.5V655.2H725.7V652.4H720.2V660.8H717.4V658H714.6V649.7H711.9V658H709.1V649.7H706.3V658H703.5V652.4H695.2V649.7H692.4V658H686.9V652.4H678.6V663.5H675.8V652.4H673V649.7H667.5V646.9H664.7V644.1H661.9V646.9H659.2V638.6H656.4V641.4H645.3V644.1H637V646.9H631.4V644.1H628.6V641.4H625.9V646.9H620.3V644.1H614.8V638.6H612V635.8H606.5V633H603.7V624.7H600.9V621.9H598.1V630.3H595.4V624.7H592.6V630.3H589.8V627.5H587V619.2H584.3V616.4H581.5V613.6H578.7V605.3H575.9V602.5H573.2V591.4H570.4V585.9H567.6V580.3H564.8V572H562.1V563.7H559.3V569.2H553.7V560.9H551V558.1H548.2V547H545.4V527.6H542.7V519.3H539.9V508.2H537.1V502.7H531.6V527.6H528.8V533.2H526V555.4H523.2V580.3H520.5V588.6H517.7V602.5H514.9V608.1H512.1V616.4H509.4V621.9H506.6V630.3H501V633H498.3V635.8H495.5V638.6H487.2V646.9H484.4V644.1H478.8V649.7H476.1V644.1H473.3V638.6H467.8V641.4H465V644.1H462.2V633H456.7V627.5H453.9V630.3H451.1V627.5H448.3V630.3H445.6V624.7H442.8V630.3H440V635.8H437.2V630.3H434.5V635.8H431.7V633H428.9V646.9H426.1V635.8H423.4V638.6H420.6V644.1H417.8V641.4H415V644.1H409.5V646.9H406.7V649.7H404V658H401.2V646.9H395.6V644.1H392.9V646.9H390.1V644.1H387.3V646.9H384.5V641.4H379V649.7H376.2V638.6H373.4V635.8H370.7V627.5H367.9V613.6H365.1V605.3H362.3V616.4H359.6V630.3H356.8V638.6H348.5V644.1H345.7V641.4H337.4V644.1H334.6V638.6H331.8V644.1H320.7V646.9H318V644.1H306.9V641.4H304.1V638.6H301.3V644.1H287.4V638.6H284.7V641.4H281.9V644.1H276.3V649.7H273.6V638.6H270.8V644.1H268V646.9H265.3V649.7H262.5V641.4H243.1V635.8H237.5V644.1H234.7V641.4H232V638.6H229.2V635.8H226.4V641.4H223.6V638.6H218.1V641.4H215.3V644.1H209.8V641.4H207V649.7H204.2V652.4H201.2Z"/>
<path fill="#ff1c20" d="M201.2 785.6H204.2V782.8H207V791.1H209.8V788.4H212.5V785.6H215.3V791.1H218.1V788.4H220.9V782.8H223.6V777.3H226.4V785.6H232V788.4H234.7V785.6H240.3V791.1H245.8V788.4H254.2V782.8H256.9V785.6H259.7V788.4H262.5V785.6H265.3V791.1H270.8V788.4H276.3V791.1H281.9V788.4H284.7V791.1H287.4V793.9H290.2V791.1H293V793.9H301.3V791.1H304.1V796.7H309.6V793.9H312.4V788.4H315.2V793.9H320.7V796.7H329.1V793.9H331.8V785.6H334.6V793.9H337.4V791.1H342.9V785.6H345.7V782.8H351.2V780.1H354V769H356.8V749.5H359.6V735.7H362.3V746.8H365.1V763.4H367.9V769H370.7V785.6H373.4V788.4H376.2V793.9H387.3V796.7H395.6V793.9H398.4V796.7H401.2V793.9H406.7V799.5H409.5V796.7H415V791.1H417.8V793.9H420.6V785.6H431.7V780.1H434.5V774.5H437.2V780.1H440V777.3H445.6V774.5H448.3V777.3H451.1V769H453.9V771.7H456.7V777.3H459.4V780.1H462.2V782.8H465V785.6H467.8V788.4H473.3V793.9H476.1V791.1H478.8V793.9H481.6V788.4H484.4V791.1H492.7V793.9H495.5V791.1H501V782.8H503.8V777.3H506.6V771.7H509.4V763.4H512.1V746.8H514.9V741.2H517.7V721.8H520.5V699.6H523.2V677.4H526V663.5H528.8V641.4H531.6V638.6H534.3V627.5H537.1V638.6H539.9V652.4H542.7V666.3H545.4V688.5H548.2V699.6H551V710.7H556.5V713.5H559.3V707.9H562.1V713.5H564.8V719H567.6V724.6H570.4V738.4H573.2V746.8H575.9V755.1H581.5V771.7H584.3V769H587V755.1H589.8V766.2H595.4V769H600.9V777.3H603.7V774.5H606.5V782.8H609.2V791.1H612V793.9H614.8V791.1H617.6V793.9H623.1V791.1H625.9V796.7H631.4V791.1H637V788.4H639.7V791.1H642.5V788.4H645.3V791.1H656.4V788.4H659.2V791.1H661.9V793.9H664.7V796.7H667.5V802.2H675.8V799.5H678.6V802.2H681.4V805H684.1V802.2H689.7V807.8H692.4V805H695.2V802.2H698V805H706.3V810.6H709.1V807.8H714.6V805H717.4V807.8H720.2V805H725.7V802.2H728.5V799.5H731.3V796.7H736.8V799.5H739.6V793.9H745.2V791.1H747.9V788.4H750.7V785.6H753.5V774.5H756.3V769H759V777.3H761.8V780.1H767.3V785.6H772.9V791.1H775.7V793.9H778.4V796.7H784V799.5H786.8V796.7H789.5V799.5H795.1V802.2H797.9V793.9H800.6V802.2H806.2V805H809V802.2H811.7V793.9H814.5V799.5H817.3V796.7H822.8V799.5H828.4V802.2H833.9V805H836.7V807.8H839.5V805H842.2V807.8H847.8V802.2H853.3V807.8H856.1V805H858.9V802.2H875.5V799.5H878.3V796.7H881.1V805H886.6V802.2H889.4V807.8H892.2V802.2H895V805H900.5V802.2H903.3V805H906V802.2H908.8V805H914.4V802.2H925.5V799.5H931V796.7H936.6V791.1H942.1V780.1H944.9V791.1H947.7V780.1H956V769H958.8V782.8H961.5V785.6H964.3V788.4H967.1V791.1H972.6V785.6H975.4V791.1H978.2V793.9H983.7V780.1H986.5V791.1H997.6V793.9H1005.9V791.1H1014.2V788.4H1017V791.1H1019.8V788.4H1022.6V780.1H1028.1V774.5H1033.7V766.2H1036.4V780.1H1042V785.6H1044.7V788.4H1053.1V785.6H1055.8V788.4H1058.6V785.6H1061.4V780.1H1064.2V785.6H1066.9V782.8H1069.7V788.4H1072.5V791.1H1075.3V785.6H1078V791.1H1080.8V785.6H1083.6V788.4H1086.4V785.6H1089.1V788.4H1097.5V793.9H1100.2V799.5H1103V793.9H1105.8V796.7H1111.3V799.5H1116.9V796.7H1125.2V799.5H1128V788.4H1130.7V793.9H1136.3V796.7H1139.1V799.5H1141.8V802.2H1144.6V805H1147.4V807.8H1152.9V810.6H1158.5V807.8H1161.3V810.6H1164V813.3H1169.6V807.8H1172.4V813.3H1175.1V810.6H1177.9V816.1H1180.7V813.3H1189V802.2H1191.8V813.3H1194.5V810.6H1200.1V807.8H1205.6V810.6H1208.4V807.8H1216.7V802.2H1219.5V807.8H1222.3V802.2H1227.8V799.5H1230.6V802.2H1241.7V805H1250V807.8H1252.8V813.3H1255.6V810.6H1261.1V799.5H1263.9V813.3H1266.7V810.6H1275V807.8H1277.8V813.3H1280.5V810.6H1286.1V813.3H1288.9V807.8H1294.4V813.3H1297.2V810.6H1302.7V813.3H1305.5V805H1308.3V813.3H1313.8V810.6H1316.6V807.8H1319.4V810.6H1322.1V807.8H1324.9V810.6H1327.7V807.8H1333.2V805H1336V810.6H1338.8V807.8H1341.6V805H1344.3V802.2H1347.1V807.8H1352.7V810.6H1355.4V807.8H1358.2V810.6H1361V807.8H1366.5V805H1369.3V807.8H1374.9V805H1377.6V802.2H1380.4V807.8H1386V802.2H1388.7V807.8H1394.3V805H1397V807.8H1399.8V805H1402.6V793.9H1405.4V805H1408.1V802.2H1410.9V805H1413.7V802.2H1419.2V791.1H1422V799.5H1427.6V802.2H1435.9V796.7H1438.7V799.5H1444.2V802.2H1449.8V799.5H1452.5V802.2H1455.3V791.1H1458.1V799.5H1463.6V805H1474.7V807.8H1483V810.6H1488.6V813.3H1491.4V816.1H1496.9V813.3H1499.7V816.1H1502.5V813.3H1508V816.1H1513.6V813.3H1519.1V810.6H1521.9V813.3H1524.7V816.1H1527.4V810.6H1530.2V818.9H1533V816.1H1538.5V813.3H1541.3V816.1H1544.1V818.9H1546.8V816.1H1549.6V813.3H1552.4V810.6H1555.2V813.3H1557.9V816.1H1582.9V818.9H1594V813.3H1596.8V816.1H1602.3V813.3H1605.1V818.9H1607.9V816.1H1610.6V813.3H1613.4V818.9H1616.2V816.1H1627.3V807.8H1630.1V818.9H1632.8V816.1H1638.4V813.3H1641.2V816.1H1649.5V818.9H1657.8V816.1H1660.6V818.9H1666.1V816.1H1680V818.9H1682.8V816.1H1688.3V813.3H1693.9V816.1H1699.4V813.3H1705V816.1H1707.7V807.8H1710.5V813.3H1713.3V810.6H1718.8V813.3H1732.7V810.6H1735.5V813.3H1738.3V810.6H1741V813.3H1743.8V805H1746.6V813.3H1757.7V810.6H1763.2V813.3H1768.8V810.6H1777.1V813.3H1779.9V810.6H1791V813.3H1793.7V810.6H1799.3V807.8H1804.8V813.3H1807.6V810.6H1813.1V807.8H1815.9V810.6H1821.5V813.3H1832.6V810.6H1838.1V816.1H1840.9V813.3H1846.4V816.1H1849.2V813.3H1854.8V810.6H1857.5V818.9H1877V816.1H1879.7V821.7H1882.5V818.9H1885.3V821.7H1888V818.9H1890.8V821.7H1896.4V830H1879.7V827.2H1874.2V830H1871.4V832.8H1868.6V824.4H1863.1V827.2H1857.5V824.4H1849.2V821.7H1846.4V818.9H1843.7V821.7H1840.9V824.4H1838.1V827.2H1835.3V816.1H1832.6V821.7H1829.8V818.9H1815.9V830H1813.1V821.7H1807.6V818.9H1799.3V821.7H1793.7V818.9H1791V821.7H1788.2V818.9H1782.6V821.7H1779.9V824.4H1777.1V821.7H1771.5V818.9H1768.8V821.7H1760.4V818.9H1757.7V824.4H1754.9V821.7H1752.1V818.9H1749.3V821.7H1746.6V818.9H1743.8V821.7H1724.4V824.4H1721.6V821.7H1718.8V824.4H1716.1V818.9H1713.3V821.7H1707.7V824.4H1705V821.7H1693.9V827.2H1691.1V824.4H1685.5V827.2H1682.8V821.7H1680V824.4H1666.1V827.2H1660.6V824.4H1657.8V827.2H1649.5V824.4H1646.7V827.2H1643.9V830H1641.2V827.2H1638.4V824.4H1635.6V827.2H1632.8V824.4H1627.3V827.2H1613.4V824.4H1607.9V827.2H1605.1V824.4H1594V827.2H1585.7V824.4H1582.9V830H1580.1V824.4H1577.4V827.2H1574.6V821.7H1571.8V827.2H1569V824.4H1566.3V821.7H1560.7V827.2H1557.9V821.7H1555.2V824.4H1544.1V827.2H1541.3V824.4H1535.7V827.2H1533V824.4H1530.2V821.7H1524.7V827.2H1521.9V824.4H1519.1V821.7H1513.6V824.4H1510.8V821.7H1502.5V824.4H1499.7V827.2H1496.9V821.7H1494.1V824.4H1491.4V818.9H1488.6V821.7H1483V818.9H1480.3V816.1H1477.5V821.7H1474.7V816.1H1469.2V813.3H1463.6V810.6H1460.8V813.3H1455.3V810.6H1444.2V807.8H1441.4V810.6H1438.7V807.8H1435.9V810.6H1433.1V813.3H1430.3V810.6H1422V813.3H1419.2V816.1H1416.5V813.3H1408.1V816.1H1405.4V813.3H1402.6V824.4H1399.8V816.1H1394.3V813.3H1391.5V818.9H1388.7V813.3H1386V818.9H1383.2V821.7H1380.4V816.1H1372.1V821.7H1369.3V818.9H1366.5V816.1H1361V818.9H1358.2V816.1H1347.1V818.9H1344.3V813.3H1341.6V821.7H1338.8V818.9H1322.1V821.7H1313.8V824.4H1311.1V821.7H1308.3V818.9H1305.5V821.7H1302.7V818.9H1294.4V821.7H1291.6V818.9H1288.9V821.7H1286.1V816.1H1280.5V818.9H1277.8V821.7H1272.2V816.1H1269.4V818.9H1266.7V821.7H1261.1V818.9H1255.6V824.4H1252.8V818.9H1250V816.1H1247.3V813.3H1244.5V810.6H1241.7V813.3H1236.2V810.6H1230.6V813.3H1222.3V818.9H1216.7V813.3H1211.2V816.1H1202.9V821.7H1200.1V818.9H1191.8V821.7H1186.2V818.9H1183.4V821.7H1169.6V824.4H1166.8V821.7H1164V818.9H1161.3V816.1H1158.5V818.9H1155.7V816.1H1152.9V818.9H1150.2V816.1H1144.6V807.8H1139.1V805H1136.3V799.5H1133.5V805H1125.2V807.8H1122.4V810.6H1116.9V807.8H1111.3V810.6H1105.8V805H1097.5V799.5H1094.7V802.2H1091.9V793.9H1089.1V799.5H1083.6V807.8H1080.8V802.2H1078V796.7H1075.3V799.5H1072.5V793.9H1069.7V796.7H1066.9V799.5H1064.2V796.7H1053.1V799.5H1047.5V802.2H1042V793.9H1039.2V791.1H1036.4V785.6H1030.9V788.4H1025.3V796.7H1022.6V799.5H1011.5V796.7H1008.7V802.2H1005.9V796.7H1003.1V799.5H997.6V802.2H992V799.5H989.3V802.2H983.7V799.5H980.9V805H978.2V802.2H975.4V799.5H972.6V802.2H967.1V796.7H964.3V799.5H961.5V788.4H958.8V791.1H956V793.9H953.2V791.1H950.4V793.9H947.7V796.7H944.9V802.2H939.3V805H936.6V807.8H933.8V810.6H931V807.8H928.2V810.6H925.5V816.1H922.7V810.6H917.1V813.3H914.4V818.9H908.8V813.3H906V821.7H903.3V813.3H897.7V818.9H895V821.7H892.2V816.1H886.6V813.3H881.1V821.7H878.3V810.6H875.5V807.8H872.8V810.6H870V813.3H867.2V810.6H864.4V813.3H861.7V810.6H858.9V816.1H853.3V813.3H847.8V818.9H845V816.1H842.2V813.3H839.5V816.1H836.7V813.3H831.1V810.6H825.6V805H817.3V810.6H814.5V807.8H811.7V810.6H806.2V813.3H803.4V816.1H795.1V813.3H792.3V810.6H789.5V813.3H786.8V810.6H784V813.3H781.2V807.8H778.4V805H775.7V802.2H772.9V799.5H767.3V793.9H764.6V788.4H761.8V785.6H759V782.8H756.3V791.1H753.5V796.7H750.7V799.5H747.9V796.7H745.2V807.8H742.4V805H731.3V807.8H725.7V810.6H720.2V816.1H714.6V813.3H711.9V816.1H698V810.6H695.2V813.3H692.4V816.1H689.7V813.3H686.9V810.6H684.1V816.1H681.4V813.3H673V810.6H664.7V802.2H659.2V799.5H653.6V802.2H645.3V799.5H642.5V802.2H639.7V805H637V802.2H625.9V805H623.1V802.2H620.3V805H612V799.5H609.2V793.9H606.5V796.7H603.7V788.4H600.9V782.8H598.1V780.1H589.8V785.6H587V782.8H584.3V777.3H578.7V769H575.9V760.6H573.2V752.3H570.4V741.2H567.6V732.9H564.8V730.1H562.1V724.6H559.3V727.3H556.5V721.8H548.2V699.6H545.4V688.5H542.7V669.1H539.9V660.8H537.1V658H534.3V646.9H531.6V671.9H528.8V680.2H526V707.9H523.2V724.6H520.5V744H517.7V757.9H514.9V769H512.1V780.1H509.4V785.6H506.6V791.1H503.8V796.7H498.3V799.5H495.5V802.2H492.7V799.5H489.9V807.8H487.2V802.2H481.6V799.5H478.8V805H476.1V799.5H470.5V796.7H467.8V793.9H465V791.1H459.4V788.4H456.7V785.6H453.9V791.1H448.3V785.6H442.8V788.4H434.5V791.1H431.7V796.7H426.1V807.8H423.4V799.5H417.8V802.2H415V807.8H412.3V805H409.5V810.6H406.7V805H404V807.8H401.2V805H392.9V807.8H387.3V805H381.8V799.5H376.2V802.2H373.4V796.7H370.7V791.1H367.9V771.7H365.1V766.2H362.3V755.1H359.6V771.7H356.8V785.6H354V793.9H348.5V796.7H345.7V799.5H340.1V802.2H334.6V807.8H331.8V805H326.3V807.8H323.5V810.6H318V805H315.2V802.2H312.4V805H309.6V807.8H306.9V805H304.1V802.2H298.5V799.5H295.8V802.2H279.1V805H276.3V799.5H259.7V802.2H256.9V796.7H254.2V799.5H248.6V796.7H245.8V799.5H243.1V796.7H240.3V802.2H237.5V799.5H234.7V802.2H232V805H229.2V796.7H226.4V799.5H223.6V796.7H218.1V807.8H215.3V805H212.5V799.5H209.8V802.2H207V796.7H204.2V799.5H201.2Z"/>
<path fill="#000000" d="M201.2 949.3H212.5V946.5H215.3V949.3H218.1V946.5H220.9V949.3H223.6V946.5H226.4V943.7H229.2V946.5H232V949.3H237.5V946.5H248.6V943.7H251.4V946.5H254.2V943.7H256.9V949.3H259.7V946.5H265.3V949.3H273.6V946.5H276.3V952H279.1V943.7H284.7V946.5H287.4V949.3H290.2V952H293V949.3H295.8V952H298.5V949.3H301.3V952H306.9V943.7H309.6V946.5H312.4V952H318V954.8H320.7V952H323.5V949.3H326.3V954.8H331.8V952H342.9V946.5H351.2V932.6H354V929.8H356.8V921.5H359.6V904.9H362.3V896.6H365.1V882.7H367.9V899.3H370.7V918.8H373.4V938.2H376.2V946.5H379V949.3H381.8V952H384.5V954.8H387.3V960.4H390.1V957.6H392.9V954.8H398.4V957.6H404V954.8H406.7V952H409.5V949.3H412.3V946.5H415V949.3H417.8V943.7H423.4V940.9H426.1V935.4H428.9V938.2H431.7V935.4H434.5V940.9H437.2V938.2H442.8V935.4H448.3V929.8H453.9V927.1H456.7V935.4H459.4V938.2H462.2V940.9H465V946.5H467.8V943.7H473.3V949.3H484.4V946.5H495.5V949.3H498.3V943.7H501V940.9H503.8V935.4H506.6V929.8H509.4V924.3H512.1V916H514.9V904.9H517.7V891H520.5V860.5H523.2V855H526V827.2H528.8V799.5H531.6V785.6H534.3V782.8H537.1V774.5H539.9V785.6H542.7V799.5H545.4V816.1H548.2V841.1H553.7V855H556.5V857.7H559.3V863.3H564.8V866H567.6V871.6H570.4V882.7H573.2V896.6H575.9V907.7H578.7V918.8H581.5V921.5H584.3V927.1H587V929.8H592.6V924.3H595.4V913.2H598.1V927.1H600.9V924.3H603.7V932.6H606.5V935.4H609.2V940.9H612V946.5H614.8V954.8H617.6V952H620.3V954.8H623.1V957.6H625.9V954.8H628.6V946.5H631.4V952H634.2V949.3H637V952H639.7V954.8H645.3V949.3H648.1V954.8H650.8V952H653.6V946.5H659.2V943.7H661.9V952H667.5V960.4H670.3V965.9H675.8V963.1H678.6V965.9H681.4V960.4H684.1V965.9H686.9V963.1H689.7V957.6H692.4V960.4H695.2V963.1H698V965.9H700.8V960.4H703.5V965.9H709.1V960.4H711.9V965.9H714.6V963.1H720.2V960.4H723V963.1H725.7V960.4H728.5V954.8H739.6V952H742.4V949.3H747.9V946.5H750.7V940.9H756.3V938.2H759V940.9H761.8V924.3H764.6V940.9H767.3V938.2H770.1V946.5H772.9V949.3H775.7V952H778.4V954.8H781.2V957.6H786.8V960.4H795.1V963.1H800.6V965.9H803.4V963.1H809V952H811.7V963.1H817.3V957.6H822.8V954.8H828.4V949.3H831.1V954.8H833.9V957.6H839.5V960.4H842.2V963.1H845V965.9H853.3V968.7H856.1V963.1H861.7V960.4H864.4V963.1H870V952H875.5V960.4H883.9V963.1H892.2V954.8H895V963.1H897.7V965.9H900.5V960.4H903.3V963.1H917.1V960.4H922.7V965.9H925.5V963.1H928.2V957.6H931V960.4H933.8V954.8H939.3V946.5H942.1V940.9H944.9V943.7H950.4V938.2H953.2V935.4H956V927.1H958.8V932.6H961.5V935.4H964.3V943.7H967.1V946.5H969.8V949.3H972.6V943.7H975.4V946.5H980.9V949.3H992V946.5H997.6V949.3H1005.9V952H1019.8V943.7H1022.6V940.9H1025.3V932.6H1028.1V927.1H1033.7V921.5H1036.4V932.6H1039.2V935.4H1044.7V946.5H1047.5V949.3H1050.3V952H1053.1V946.5H1055.8V938.2H1061.4V940.9H1064.2V943.7H1066.9V938.2H1069.7V943.7H1078V949.3H1089.1V952H1094.7V949.3H1097.5V943.7H1100.2V949.3H1108.6V952H1111.3V954.8H1114.1V957.6H1116.9V960.4H1119.6V957.6H1122.4V960.4H1128V957.6H1133.5V952H1139.1V949.3H1141.8V952H1144.6V960.4H1147.4V963.1H1150.2V965.9H1152.9V971.5H1155.7V968.7H1158.5V963.1H1161.3V965.9H1164V968.7H1169.6V971.5H1172.4V968.7H1177.9V963.1H1180.7V965.9H1183.4V968.7H1186.2V974.2H1189V971.5H1191.8V974.2H1194.5V971.5H1202.9V968.7H1205.6V971.5H1214V968.7H1216.7V965.9H1230.6V960.4H1233.4V963.1H1241.7V960.4H1244.5V968.7H1247.3V965.9H1250V968.7H1255.6V957.6H1258.3V968.7H1263.9V963.1H1266.7V968.7H1272.2V971.5H1277.8V968.7H1280.5V971.5H1283.3V965.9H1286.1V971.5H1288.9V968.7H1297.2V971.5H1300V960.4H1302.7V968.7H1305.5V971.5H1308.3V968.7H1311.1V960.4H1313.8V971.5H1316.6V963.1H1319.4V971.5H1330.5V968.7H1336V965.9H1338.8V968.7H1341.6V965.9H1355.4V960.4H1358.2V965.9H1369.3V963.1H1372.1V965.9H1377.6V968.7H1380.4V965.9H1383.2V968.7H1388.7V965.9H1394.3V968.7H1405.4V965.9H1408.1V954.8H1410.9V963.1H1413.7V960.4H1419.2V965.9H1422V963.1H1424.8V952H1427.6V963.1H1435.9V960.4H1438.7V963.1H1444.2V960.4H1452.5V954.8H1458.1V963.1H1469.2V968.7H1471.9V971.5H1480.3V968.7H1483V971.5H1488.6V974.2H1499.7V977H1508V968.7H1513.6V977H1516.3V974.2H1519.1V979.8H1521.9V977H1527.4V979.8H1530.2V977H1538.5V974.2H1541.3V979.8H1544.1V971.5H1546.8V974.2H1549.6V977H1552.4V979.8H1555.2V977H1560.7V979.8H1566.3V977H1569V979.8H1574.6V974.2H1577.4V977H1582.9V979.8H1588.5V977H1591.2V979.8H1596.8V977H1599.6V979.8H1602.3V982.6H1605.1V979.8H1610.6V982.6H1613.4V979.8H1619V974.2H1621.7V979.8H1627.3V977H1632.8V979.8H1641.2V977H1649.5V979.8H1652.3V977H1660.6V979.8H1663.4V977H1666.1V974.2H1668.9V977H1677.2V974.2H1680V977H1682.8V979.8H1688.3V977H1693.9V979.8H1696.6V977H1702.2V979.8H1705V977H1707.7V979.8H1713.3V977H1716.1V974.2H1721.6V977H1727.2V979.8H1735.5V977H1738.3V974.2H1741V977H1743.8V974.2H1746.6V977H1749.3V974.2H1752.1V977H1754.9V974.2H1757.7V977H1766V974.2H1768.8V977H1782.6V974.2H1785.4V977H1788.2V979.8H1791V977H1802.1V974.2H1810.4V977H1835.3V974.2H1838.1V977H1840.9V979.8H1852V977H1854.8V982.6H1863.1V985.3H1865.9V982.6H1877V985.3H1879.7V982.6H1882.5V985.3H1888V988.1H1890.8V985.3H1896.4V993.7H1893.6V990.9H1890.8V993.7H1888V990.9H1879.7V993.7H1877V990.9H1871.4V993.7H1865.9V990.9H1863.1V993.7H1860.3V990.9H1857.5V993.7H1854.8V990.9H1852V988.1H1846.4V990.9H1843.7V988.1H1840.9V990.9H1838.1V988.1H1835.3V985.3H1832.6V982.6H1829.8V996.4H1827V988.1H1815.9V985.3H1807.6V982.6H1799.3V985.3H1796.5V982.6H1791V985.3H1782.6V990.9H1779.9V985.3H1777.1V982.6H1774.3V985.3H1768.8V988.1H1766V990.9H1763.2V985.3H1754.9V988.1H1746.6V985.3H1743.8V988.1H1741V985.3H1729.9V988.1H1727.2V985.3H1724.4V988.1H1721.6V985.3H1713.3V988.1H1707.7V985.3H1705V988.1H1702.2V996.4H1699.4V993.7H1696.6V988.1H1691.1V985.3H1682.8V988.1H1680V990.9H1677.2V988.1H1671.7V985.3H1663.4V990.9H1660.6V985.3H1652.3V988.1H1649.5V990.9H1646.7V988.1H1632.8V985.3H1627.3V990.9H1624.5V996.4H1621.7V988.1H1619V985.3H1616.2V988.1H1610.6V985.3H1607.9V993.7H1605.1V988.1H1602.3V985.3H1599.6V988.1H1588.5V985.3H1585.7V988.1H1582.9V990.9H1580.1V988.1H1571.8V990.9H1569V988.1H1555.2V985.3H1552.4V988.1H1546.8V985.3H1535.7V988.1H1530.2V985.3H1524.7V988.1H1521.9V985.3H1519.1V982.6H1513.6V985.3H1508V982.6H1499.7V985.3H1496.9V982.6H1485.8V979.8H1480.3V977H1469.2V982.6H1466.4V974.2H1458.1V968.7H1455.3V971.5H1447V968.7H1444.2V971.5H1441.4V974.2H1438.7V977H1433.1V968.7H1430.3V974.2H1422V979.8H1419.2V968.7H1416.5V971.5H1413.7V974.2H1408.1V977H1405.4V974.2H1402.6V979.8H1399.8V974.2H1397V977H1394.3V974.2H1391.5V977H1383.2V974.2H1374.9V977H1372.1V974.2H1366.5V985.3H1363.8V982.6H1361V977H1358.2V974.2H1352.7V977H1347.1V974.2H1344.3V977H1327.7V982.6H1324.9V988.1H1322.1V979.8H1319.4V982.6H1316.6V979.8H1311.1V977H1305.5V979.8H1302.7V977H1300V979.8H1286.1V977H1283.3V979.8H1277.8V977H1275V979.8H1272.2V982.6H1266.7V979.8H1263.9V977H1258.3V974.2H1255.6V977H1252.8V979.8H1250V977H1238.9V979.8H1236.2V974.2H1233.4V971.5H1230.6V977H1227.8V974.2H1222.3V977H1216.7V974.2H1214V979.8H1211.2V977H1208.4V979.8H1200.1V982.6H1194.5V979.8H1189V982.6H1186.2V979.8H1180.7V982.6H1177.9V985.3H1175.1V979.8H1169.6V977H1166.8V979.8H1161.3V977H1158.5V979.8H1155.7V977H1152.9V974.2H1150.2V971.5H1147.4V968.7H1144.6V971.5H1141.8V968.7H1139.1V957.6H1136.3V965.9H1130.7V968.7H1122.4V965.9H1119.6V968.7H1116.9V965.9H1111.3V960.4H1108.6V957.6H1103V960.4H1100.2V957.6H1091.9V960.4H1089.1V957.6H1083.6V960.4H1080.8V957.6H1075.3V954.8H1069.7V949.3H1066.9V952H1064.2V949.3H1058.6V954.8H1055.8V957.6H1053.1V965.9H1050.3V960.4H1047.5V954.8H1044.7V952H1042V949.3H1039.2V946.5H1036.4V943.7H1033.7V940.9H1028.1V946.5H1025.3V954.8H1022.6V957.6H1017V963.1H1014.2V960.4H1011.5V963.1H1008.7V960.4H1005.9V957.6H1003.1V960.4H1000.4V957.6H994.8V954.8H992V957.6H989.3V954.8H986.5V957.6H978.2V960.4H975.4V957.6H967.1V952H964.3V949.3H961.5V943.7H958.8V940.9H956V943.7H953.2V949.3H950.4V954.8H947.7V957.6H944.9V960.4H939.3V965.9H936.6V968.7H933.8V974.2H925.5V977H922.7V974.2H919.9V971.5H917.1V974.2H914.4V977H911.6V974.2H908.8V971.5H906V974.2H903.3V971.5H897.7V974.2H892.2V971.5H886.6V968.7H881.1V974.2H878.3V968.7H875.5V965.9H870V974.2H867.2V968.7H861.7V971.5H856.1V974.2H850.6V971.5H847.8V979.8H845V974.2H842.2V971.5H839.5V965.9H836.7V968.7H833.9V965.9H831.1V968.7H828.4V963.1H825.6V971.5H822.8V965.9H820.1V968.7H814.5V974.2H811.7V968.7H809V971.5H803.4V968.7H800.6V971.5H797.9V974.2H792.3V971.5H789.5V968.7H784V965.9H781.2V963.1H778.4V965.9H772.9V963.1H770.1V954.8H767.3V952H764.6V949.3H759V946.5H756.3V952H753.5V954.8H747.9V957.6H745.2V960.4H742.4V957.6H739.6V963.1H734.1V965.9H725.7V971.5H714.6V968.7H711.9V974.2H709.1V971.5H703.5V974.2H698V971.5H692.4V974.2H689.7V971.5H686.9V974.2H675.8V971.5H670.3V974.2H667.5V968.7H664.7V960.4H661.9V957.6H653.6V965.9H648.1V963.1H642.5V965.9H639.7V963.1H637V960.4H631.4V965.9H625.9V963.1H623.1V965.9H620.3V960.4H617.6V963.1H614.8V957.6H612V952H609.2V949.3H606.5V943.7H603.7V940.9H600.9V935.4H598.1V932.6H595.4V940.9H592.6V938.2H589.8V949.3H587V946.5H584.3V935.4H581.5V929.8H578.7V921.5H575.9V910.4H573.2V899.3H570.4V891H567.6V882.7H564.8V885.5H562.1V871.6H556.5V863.3H548.2V843.9H545.4V821.7H542.7V802.2H539.9V791.1H534.3V816.1H531.6V830H528.8V857.7H526V877.1H523.2V896.6H520.5V907.7H517.7V918.8H514.9V935.4H512.1V932.6H509.4V949.3H506.6V946.5H503.8V949.3H501V957.6H495.5V952H492.7V954.8H489.9V957.6H487.2V960.4H484.4V957.6H478.8V960.4H476.1V957.6H470.5V954.8H465V949.3H462.2V952H459.4V946.5H456.7V940.9H451.1V943.7H445.6V946.5H440V952H437.2V949.3H434.5V952H431.7V949.3H428.9V952H426.1V949.3H423.4V954.8H417.8V957.6H412.3V960.4H409.5V968.7H406.7V965.9H401.2V963.1H395.6V968.7H392.9V965.9H390.1V968.7H387.3V965.9H384.5V960.4H381.8V968.7H379V957.6H376.2V949.3H373.4V946.5H370.7V924.3H367.9V902.1H365.1V907.7H362.3V924.3H359.6V938.2H356.8V949.3H354V954.8H348.5V957.6H345.7V960.4H334.6V963.1H331.8V968.7H329.1V965.9H326.3V963.1H323.5V960.4H320.7V965.9H312.4V960.4H309.6V963.1H306.9V960.4H301.3V954.8H298.5V957.6H295.8V960.4H293V963.1H290.2V960.4H287.4V957.6H281.9V954.8H279.1V960.4H276.3V957.6H270.8V954.8H268V960.4H265.3V957.6H262.5V954.8H254.2V957.6H251.4V954.8H245.8V957.6H234.7V965.9H232V954.8H229.2V960.4H226.4V952H223.6V954.8H220.9V957.6H209.8V960.4H204.2V968.7H201.2Z"/>
</g>
<g id="frame">
<rect x="195.80" y="30.00" width="1705.90" height="2.90" fill="#000"/><rect x="195.80" y="30.00" width="5.40" height="1265.50" fill="#000"/><rect x="1896.00" y="32.00" width="3.30" height="1263.50" fill="#8a8a84"/><rect x="1899.00" y="30.00" width="2.70" height="1265.50" fill="#000"/><rect x="195.80" y="1290.00" width="1705.90" height="5.50" fill="#000"/><rect x="195.80" y="1097.00" width="1705.90" height="5.50" fill="#000"/><rect x="195.80" y="1236.30" width="1705.90" height="5.40" fill="#000"/>
</g>
<g id="ticks">
<rect x="338.00" y="1282.50" width="5.00" height="8.50" fill="#000"/><rect x="480.00" y="1271.50" width="5.00" height="19.50" fill="#000"/><rect x="621.60" y="1282.50" width="2.80" height="8.50" fill="#000"/><rect x="763.90" y="1271.50" width="4.60" height="19.50" fill="#000"/><rect x="905.60" y="1282.50" width="2.80" height="8.50" fill="#000"/><rect x="1047.20" y="1271.50" width="5.00" height="19.50" fill="#000"/><rect x="1189.20" y="1282.50" width="2.80" height="8.50" fill="#000"/><rect x="1331.20" y="1271.50" width="2.80" height="19.50" fill="#000"/><rect x="1473.00" y="1282.50" width="2.80" height="8.50" fill="#000"/><rect x="1613.20" y="1271.50" width="4.20" height="19.50" fill="#000"/><rect x="1754.50" y="1282.50" width="5.00" height="8.50" fill="#000"/>
</g>
<g id="sticks">
<rect x="529.15" y="1037.00" width="5.20" height="61.00" fill="#000"/><rect x="605.50" y="1050.50" width="5.20" height="47.50" fill="#000"/><rect x="657.15" y="990.50" width="5.20" height="107.50" fill="#000"/><rect x="976.40" y="1072.50" width="5.20" height="25.50" fill="#000"/><rect x="1233.00" y="1064.50" width="5.20" height="33.50" fill="#000"/><rect x="1411.15" y="1067.50" width="5.20" height="30.50" fill="#000"/><rect x="1511.30" y="1094.50" width="5.20" height="3.50" fill="#000"/><rect x="1555.40" y="1072.50" width="5.20" height="25.50" fill="#000"/><rect x="1587.90" y="1085.75" width="5.20" height="12.25" fill="#000"/><rect x="362.65" y="1193.75" width="5.20" height="43.25" fill="#000"/><rect x="441.65" y="1228.00" width="5.20" height="9.00" fill="#000"/><rect x="537.15" y="1130.00" width="5.20" height="107.00" fill="#000"/><rect x="597.40" y="1228.25" width="5.20" height="8.75" fill="#000"/><rect x="752.40" y="1220.00" width="5.20" height="17.00" fill="#000"/><rect x="831.90" y="1233.25" width="5.20" height="3.75" fill="#000"/><rect x="872.40" y="1233.25" width="5.20" height="3.75" fill="#000"/><rect x="954.90" y="1214.50" width="5.20" height="22.50" fill="#000"/><rect x="1031.15" y="1214.50" width="5.20" height="22.50" fill="#000"/><rect x="1146.40" y="1220.00" width="5.20" height="17.00" fill="#000"/><rect x="1448.65" y="1228.25" width="5.20" height="8.75" fill="#000"/><rect x="1670.15" y="1228.25" width="5.20" height="8.75" fill="#000"/><rect x="1806.40" y="1233.25" width="5.20" height="3.75" fill="#000"/>
</g>
<g id="markers">
<circle cx="363.6" cy="206.5" r="12.2"/><circle cx="451.2" cy="262.8" r="12.2"/><circle cx="541.3" cy="108.0" r="12.2"/><circle cx="606.0" cy="244.7" r="12.2"/><circle cx="761.2" cy="266.3" r="12.2"/><circle cx="826.2" cy="287.5" r="12.2"/><circle cx="880.0" cy="287.0" r="12.2"/><circle cx="955.7" cy="258.0" r="12.2"/><circle cx="1036.2" cy="266.2" r="12.2"/><circle cx="1138.7" cy="288.0" r="12.2"/><circle cx="1425.0" cy="290.0" r="12.2"/><circle cx="1666.0" cy="298.7" r="12.2"/><circle cx="1788.0" cy="295.7" r="12.2"/><circle cx="1005.4" cy="70.4" r="12.2"/><path d="M519.7 107.5q8.7 9 15.4 19.6q-6.7 10.6 -15.4 19.6q-8.7 -9 -15.4 -19.6q6.7 -10.6 15.4 -19.6z"/><path d="M620.3 187.7q8.7 9 15.4 19.6q-6.7 10.6 -15.4 19.6q-8.7 -9 -15.4 -19.6q6.7 -10.6 15.4 -19.6z"/><path d="M658.9 238.2q8.7 9 15.4 19.6q-6.7 10.6 -15.4 19.6q-8.7 -9 -15.4 -19.6q6.7 -10.6 15.4 -19.6z"/><path d="M975.0 219.7q8.7 9 15.4 19.6q-6.7 10.6 -15.4 19.6q-8.7 -9 -15.4 -19.6q6.7 -10.6 15.4 -19.6z"/><path d="M1232.0 271.6q8.7 9 15.4 19.6q-6.7 10.6 -15.4 19.6q-8.7 -9 -15.4 -19.6q6.7 -10.6 15.4 -19.6z"/><path d="M1395.7 254.1q8.7 9 15.4 19.6q-6.7 10.6 -15.4 19.6q-8.7 -9 -15.4 -19.6q6.7 -10.6 15.4 -19.6z"/><path d="M1557.5 290.9q8.7 9 15.4 19.6q-6.7 10.6 -15.4 19.6q-8.7 -9 -15.4 -19.6q6.7 -10.6 15.4 -19.6z"/><path d="M1016.0 142.7q8.7 9 15.4 19.6q-6.7 10.6 -15.4 19.6q-8.7 -9 -15.4 -19.6q6.7 -10.6 15.4 -19.6z"/>
</g>
<g id="labels">
<text x="159.84" y="1369.10" font-size="69.54" textLength="76.91" lengthAdjust="spacingAndGlyphs">20</text>
<text x="444.76" y="1369.10" font-size="69.54" textLength="75.44" lengthAdjust="spacingAndGlyphs">30</text>
<text x="726.26" y="1369.10" font-size="69.54" textLength="75.95" lengthAdjust="spacingAndGlyphs">40</text>
<text x="1012.18" y="1369.10" font-size="69.54" textLength="72.93" lengthAdjust="spacingAndGlyphs">50</text>
<text x="1294.42" y="1369.10" font-size="69.54" textLength="75.28" lengthAdjust="spacingAndGlyphs">60</text>
<text x="1578.49" y="1369.10" font-size="69.54" textLength="75.46" lengthAdjust="spacingAndGlyphs">70</text>
<text x="1860.88" y="1369.10" font-size="69.54" textLength="76.35" lengthAdjust="spacingAndGlyphs">80</text>
<text><tspan x="939.21" y="1446.25" font-size="74.19" textLength="42.17" lengthAdjust="spacingAndGlyphs">2</tspan><tspan x="984.89" y="1445.87" font-size="73.38" textLength="45.30" lengthAdjust="spacingAndGlyphs" class="sf thin" font-style="italic">&#952;</tspan> <tspan x="1038.75" y="1445.85" font-size="75.31" textLength="20.03" lengthAdjust="spacingAndGlyphs" class="thin">/</tspan> <tspan x="1081.43" y="1444.26" font-size="73.46" textLength="19.03" lengthAdjust="spacingAndGlyphs" class="thin">(</tspan><tspan x="1102.18" y="1453.18" font-size="81.98" textLength="32.14" lengthAdjust="spacingAndGlyphs" class="thin">&#176;</tspan><tspan x="1138.57" y="1444.26" font-size="73.46" textLength="19.03" lengthAdjust="spacingAndGlyphs" class="thin">)</tspan></text>
<text transform="translate(83.9 866.45) rotate(-90)" font-size="73">Intensity / a.u.</text>
<text x="1053.15" y="90.60" font-size="71.00" textLength="425.26" lengthAdjust="spacingAndGlyphs" class="sf">Hydroxyapatite</text>
<text x="1057.47" y="181.00" font-size="71.00" textLength="126.52" lengthAdjust="spacingAndGlyphs" class="sf">ZnO</text>
<text x="1385.46" y="231.46" font-size="64.29" textLength="35.81" lengthAdjust="spacingAndGlyphs">a</text>
<text x="1388.23" y="452.11" font-size="68.86" textLength="38.87" lengthAdjust="spacingAndGlyphs">e</text>
<text x="1385.54" y="597.13" font-size="66.53" textLength="37.45" lengthAdjust="spacingAndGlyphs">d</text>
<text x="1380.24" y="749.85" font-size="64.66" textLength="34.77" lengthAdjust="spacingAndGlyphs">c</text>
<text x="1384.02" y="929.73" font-size="66.80" textLength="37.45" lengthAdjust="spacingAndGlyphs">b</text>
<text><tspan x="1217.78" y="1045.00" font-size="69.50" textLength="132.96" lengthAdjust="spacingAndGlyphs">ZnO</tspan> <tspan x="1368.64" y="1045.00" font-size="69.50" textLength="240.01" lengthAdjust="spacingAndGlyphs">(JCPDS:</tspan> <tspan x="1625.73" y="1045.00" font-size="69.50" textLength="242.33" lengthAdjust="spacingAndGlyphs">36-1451)</tspan></text>
<text><tspan x="904.37" y="1175.50" font-size="69.50" textLength="454.94" lengthAdjust="spacingAndGlyphs">Hydroxyapatite</tspan> <tspan x="1377.41" y="1175.50" font-size="69.50" textLength="238.71" lengthAdjust="spacingAndGlyphs">(JCPDS:</tspan> <tspan x="1633.06" y="1175.50" font-size="69.50" textLength="243.77" lengthAdjust="spacingAndGlyphs">01-1008)</tspan></text>
</g>
</svg>
</body></html>
